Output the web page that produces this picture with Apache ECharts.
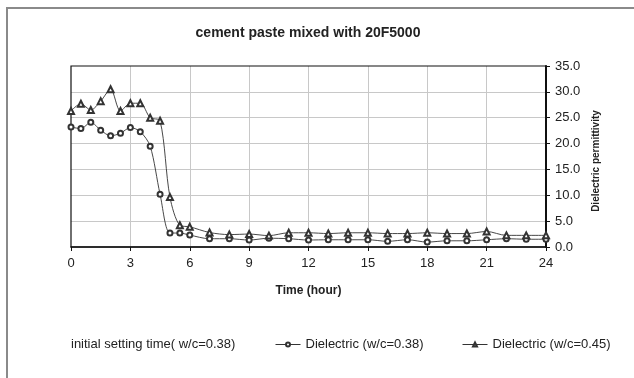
<!DOCTYPE html>
<html><head><meta charset="utf-8">
<script src="https://cdn.jsdelivr.net/npm/echarts@6/dist/echarts.min.js"></script>
<style>html,body{margin:0;padding:0;background:#fff}#c{width:634px;height:378px}</style>
</head><body><div id="c"></div>
<script>
var hours = [0,0.5,1,1.5,2,2.5,3,3.5,4,4.5,5,5.5,6,7,8,9,10,11,12,13,14,15,16,17,18,19,20,21,22,23,24];
var wc038 = [23.2,22.9,24.1,22.6,21.5,22.0,23.1,22.3,19.5,10.2,2.7,2.7,2.3,1.6,1.6,1.35,1.7,1.6,1.35,1.4,1.4,1.4,1.1,1.4,0.95,1.2,1.2,1.4,1.6,1.5,1.5];
var wc045 = [26.3,27.7,26.5,28.2,30.5,26.3,27.8,27.8,25.0,24.4,9.65,4.2,3.9,2.8,2.4,2.5,2.2,2.75,2.75,2.6,2.75,2.75,2.6,2.6,2.75,2.6,2.6,3.0,2.25,2.25,2.25];
var names = ['initial setting time( w/c=0.38)','Dielectric (w/c=0.38)','Dielectric (w/c=0.45)'];
var title = 'cement paste mixed with 20F5000';
var xName = 'Time (hour)';
var yName = 'Dielectric permittivity';

function pairs(xs, ys){ return xs.map(function(x,i){ return [x, ys[i]]; }); }
var font = 'Liberation Sans, Arial, sans-serif';
var lt = {fontFamily:font,fontSize:13,color:'#222'};
var legIcon = {lineStyle:{width:1},itemStyle:{borderWidth:1}};
var chart = echarts.init(document.getElementById('c'));
chart.setOption({
  animation:false,
  backgroundColor:'#fff',
  title:{text:title,left:303,top:21,textAlign:'center',textStyle:{fontFamily:font,fontSize:14,fontWeight:'bold',color:'#222'}},
  graphic:[
    {type:'rect',shape:{x:7,y:8,width:700,height:500},style:{fill:'none',stroke:'#8a8a8a',lineWidth:2},silent:true},
    {type:'text',x:596,y:161,rotation:Math.PI/2,style:{text:yName,fontFamily:font,fontSize:10,fontWeight:'bold',fill:'#222',align:'center',verticalAlign:'middle'},silent:true}
  ],
  grid:{left:71,right:88,top:66,bottom:131,show:true,borderColor:'#111',borderWidth:1.2,backgroundColor:'transparent',z:3},
  legend:[
    {data:[{name:names[0],icon:'none'}],left:61,top:333,itemWidth:0,itemHeight:5,textStyle:lt},
    Object.assign({data:[names[1]],left:270,top:333,itemWidth:25,itemHeight:5,textStyle:lt},legIcon),
    Object.assign({data:[names[2]],left:457,top:333,itemWidth:25,itemHeight:5,textStyle:lt},legIcon)
  ],
  xAxis:{type:'value',min:0,max:24,interval:3,name:xName,nameLocation:'middle',nameGap:38,
    nameTextStyle:{fontFamily:font,fontSize:12,fontWeight:'bold',color:'#222'},
    axisLine:{onZero:false,lineStyle:{color:'#111',width:1.5}},
    axisTick:{show:true,length:4,lineStyle:{color:'#111'}},
    axisLabel:{fontFamily:font,fontSize:13,color:'#222',margin:10},
    splitLine:{show:true,showMinLine:false,showMaxLine:false,lineStyle:{color:'#c8c8c8',width:1}}},
  yAxis:{type:'value',position:'right',min:0,max:35,interval:5,
    axisLine:{show:true,onZero:false,lineStyle:{color:'#111',width:2}},
    axisTick:{show:true,length:4,lineStyle:{color:'#111'}},
    axisLabel:{fontFamily:font,fontSize:13,color:'#222',margin:9,formatter:function(v){return v.toFixed(1);}},
    splitLine:{show:true,showMinLine:false,showMaxLine:false,lineStyle:{color:'#c8c8c8',width:1}}},
  series:[
    {name:names[0],type:'line',data:[],symbol:'none',lineStyle:{color:'#222',width:1},itemStyle:{color:'#222'}},
    {name:names[1],type:'line',data:pairs(hours,wc038),smooth:0.3,symbol:'emptyCircle',symbolSize:5,
      lineStyle:{color:'#333',width:0.9},itemStyle:{color:'#333',borderWidth:0.9}},
    {name:names[2],type:'line',data:pairs(hours,wc045),smooth:0.3,symbol:'emptyTriangle',symbolSize:6,
      lineStyle:{color:'#333',width:0.9},itemStyle:{color:'#333',borderWidth:0.9}}
  ]
});
</script></body></html>
